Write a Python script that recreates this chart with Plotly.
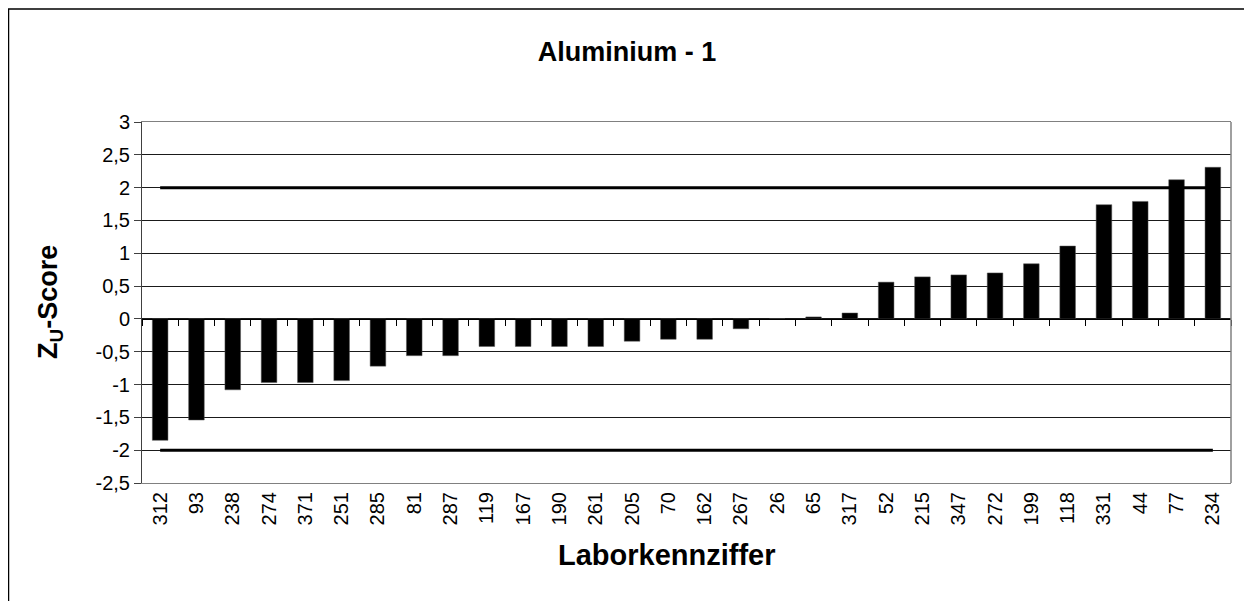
import plotly.graph_objects as go

labs = ["312", "93", "238", "274", "371", "251", "285", "81", "287", "119",
        "167", "190", "261", "205", "70", "162", "267", "26", "65", "317",
        "52", "215", "347", "272", "199", "118", "331", "44", "77", "234"]
zscores = [-1.85, -1.54, -1.08, -0.97, -0.97, -0.94, -0.72, -0.56, -0.56, -0.42,
           -0.42, -0.42, -0.42, -0.34, -0.31, -0.31, -0.15, 0.0, 0.03, 0.09,
           0.56, 0.64, 0.67, 0.70, 0.84, 1.11, 1.74, 1.79, 2.12, 2.31]
upper_limit = [2] * len(labs)
lower_limit = [-2] * len(labs)
ytick_vals = [-2.5, -2, -1.5, -1, -0.5, 0, 0.5, 1, 1.5, 2, 2.5, 3]
ytick_text = ["-2,5", "-2", "-1,5", "-1", "-0,5", "0", "0,5", "1", "1,5", "2", "2,5", "3"]

FONT = "Liberation Sans, Arial, sans-serif"
OFF = 8                      # page body margin of the html page
W, H = 1252 - OFF, 601 - OFF
# plot area in page pixels
PL, PR, PT, PB = 142, 1231, 122, 483
L, R, T, B = PL - OFF, PR - OFF, PT - OFF, PB - OFF
pw, ph = R - L, B - T


def px_x(page_x):
    return (page_x - PL) / pw


def px_y(page_y):
    return (PB - page_y) / ph


fig = go.Figure()
# helper trace for the labelled category axis at the bottom
fig.add_trace(go.Scatter(x=labs, y=[0] * len(labs), xaxis="x2", mode="markers",
                         marker=dict(size=1, opacity=0), showlegend=False, hoverinfo="skip"))
fig.add_trace(go.Bar(x=labs, y=zscores, marker=dict(color="black", line=dict(color="#555555", width=0.5)),
                     showlegend=False, hoverinfo="x+y"))
fig.add_trace(go.Scatter(x=labs, y=upper_limit, mode="lines", line=dict(color="black", width=3),
                         showlegend=False))
fig.add_trace(go.Scatter(x=labs, y=lower_limit, mode="lines", line=dict(color="black", width=3),
                         showlegend=False))

ymin, ymax = -2.5, 3
fig.update_layout(
    width=W, height=H,
    margin=dict(l=L, r=W - R, t=T, b=H - B, pad=0),
    paper_bgcolor="white", plot_bgcolor="white",
    font=dict(family=FONT, size=20, color="black"),
    title=dict(text="<b>Aluminium - 1</b>", x=(627 - OFF) / W, xref="container", xanchor="center",
               y=1 - (52 - OFF) / H, yref="container", yanchor="middle",
               font=dict(family=FONT, size=27, color="black")),
    bargap=0.57,
    # category axis at zero: tick marks between the bars
    xaxis=dict(type="category", categoryorder="array", categoryarray=labs,
               range=[-0.5, len(labs) - 0.5], anchor="free",
               position=(0 - ymin) / (ymax - ymin), side="bottom",
               ticks="outside", tickson="boundaries", ticklen=6, tickcolor="black", tickwidth=1,
               showticklabels=False, showgrid=False, showline=True, linecolor="black",
               linewidth=1, zeroline=False),
    # labelled axis at the bottom of the plot area
    xaxis2=dict(type="category", categoryorder="array", categoryarray=labs,
                range=[-0.5, len(labs) - 0.5], overlaying="x", anchor="y", side="bottom",
                tickangle=-90, ticks="",
                showgrid=False, showline=True, linecolor="#808080", linewidth=1, mirror=True,
                tickfont=dict(family=FONT, size=20, color="black")),
    yaxis=dict(range=[ymin, ymax], tickvals=ytick_vals, ticktext=ytick_text,
               showgrid=True, gridcolor="#1a1a1a", gridwidth=1,
               zeroline=False,
               showline=True, linecolor="#404040", linewidth=1,
               ticks="outside", ticklen=7, tickcolor="#404040",
               tickfont=dict(family=FONT, size=20, color="black")),
    annotations=[
        dict(text="<b>Laborkennziffer</b>", xref="paper", yref="paper",
             x=px_x(667), y=px_y(555), xanchor="center", yanchor="middle", showarrow=False,
             font=dict(family=FONT, size=29, color="black")),
        dict(text="<b>Z<sub>U</sub>-Score</b>", xref="paper", yref="paper", textangle=-90,
             x=px_x(50), y=px_y(302), xanchor="center", yanchor="middle", showarrow=False,
             font=dict(family=FONT, size=27, color="black")),
    ],
)

# outer chart frame
fig.add_shape(type="rect", xref="paper", yref="paper",
              x0=px_x(8.5), x1=px_x(1247),
              y0=px_y(640), y1=px_y(9),
              line=dict(color="black", width=1.5), fillcolor="rgba(0,0,0,0)", layer="below")
# grey plot-area frame (right side)
fig.add_shape(type="line", xref="paper", yref="paper", x0=1, x1=1, y0=0, y1=1,
              line=dict(color="#808080", width=1.5), layer="above")

fig.write_html("out.html")
